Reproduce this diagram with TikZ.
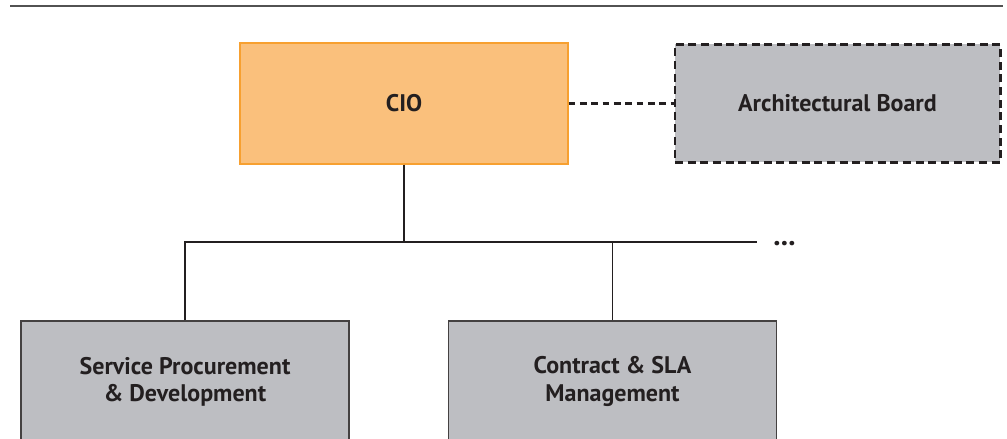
\documentclass[tikz,border=0pt]{standalone}
\usepackage{fontspec}
\setmainfont{PT Sans}
\definecolor{cioorange}{HTML}{FAC07C}
\definecolor{cioedge}{HTML}{F7A030}
\definecolor{unitgray}{HTML}{BDBEC2}
\definecolor{inkdark}{HTML}{231F20}
\tikzset{
    unit/.style={rectangle, draw=inkdark!85, fill=unitgray, line width=0.8pt, minimum width=246pt, minimum height=90.75pt, align=center, font=\fontsize{18}{20.5}\selectfont\bfseries, text=inkdark},
    board/.style={unit, draw=inkdark, line width=2pt, dash pattern=on 6pt off 3.5pt},
    link/.style={draw=inkdark, line width=0.8pt}
}
\begin{document}
\begin{tikzpicture}[x=0.75pt, y=0.75pt]
    \useasboundingbox (0,0) rectangle (1007,439);
    % rule along the top
    \draw[line width=2pt, draw=black!68] (10,433) -- (1003,433);

    \node[unit, fill=cioorange, draw=cioedge] (cio) at (404,335.5) {CIO};
    \node[board, minimum width=244pt, minimum height=88.5pt] (board) at (837.5,335.5) {Architectural Board};
    \node[unit] (procure) at (185,57.5) {Service Procurement\\ \& Development};
    \node[unit] (contract) at (612.5,57.5) {Contract \& SLA\\ Management};

    \coordinate (split) at (404,197);
    \coordinate (more) at (757,197);

    \draw[link, line width=1.6pt, dash pattern=on 5pt off 3.5pt] (cio.east) -- (board.west);
    \draw[link] (cio.south) -- (split);
    \draw[link] (procure.north) |- (split) -- (more);
    \draw[link] (contract.north) -- (contract.north |- split);
    \node[font=\fontsize{22}{22}\selectfont\bfseries, text=inkdark, inner sep=0pt, anchor=base west] (dots) at (773,193) {...};
\end{tikzpicture}
\end{document}
